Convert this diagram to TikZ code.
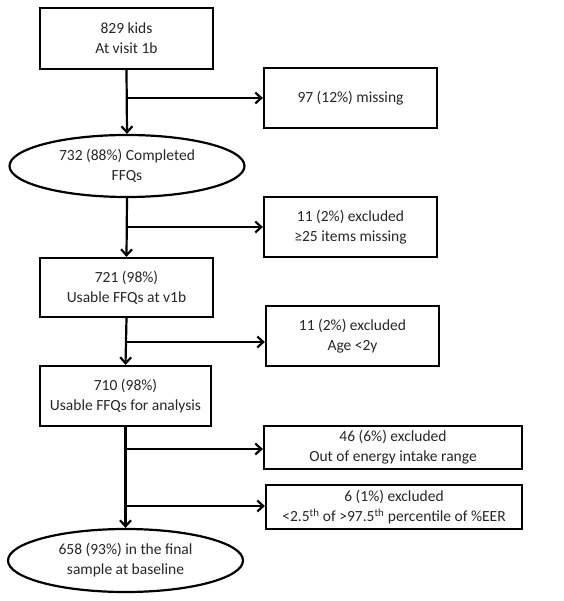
\documentclass[tikz,border=0pt]{standalone}
\usepackage{fontspec}
\setmainfont{Carlito}
\usetikzlibrary{shapes.geometric,arrows.meta}
\begin{document}
\begin{tikzpicture}[x=1pt,y=-1pt,
  every node/.style={font=\fontsize{15.5}{20}\selectfont, align=center, inner sep=0pt, text=black!85},
  box/.style={draw, line width=2.2pt, rectangle},
  ell/.style={draw, line width=2.2pt, ellipse},
  conn/.style={line width=2.2pt, -{Straight Barb[length=6pt,width=11pt,line width=2.2pt]}}]
\useasboundingbox (0,0) rectangle (563,601);
\node[box, minimum width=173, minimum height=61] (b1) at (126.5,38.5) {829 kids\\At visit 1b};
\node[box, minimum width=173, minimum height=60] (m1) at (350.5,98) {97 (12\%) missing};
\node[ell, minimum width=235, minimum height=62] (e1) at (127,166) {732 (88\%) Completed\\FFQs};
\node[box, minimum width=173, minimum height=60] (x1) at (350.5,227) {11 (2\%) excluded\\≥25 items missing};
\node[box, minimum width=173, minimum height=59] (b2) at (126.5,287.5) {721 (98\%)\\Usable FFQs at v1b};
\node[box, minimum width=173, minimum height=60] (x2) at (352.5,336) {11 (2\%) excluded\\Age <2y};
\node[box, minimum width=171, minimum height=60] (b3) at (125.5,396) {710 (98\%)\\Usable FFQs for analysis};
\node[box, minimum width=258, minimum height=43] (x3) at (393,447.5) {46 (6\%) excluded\\Out of energy intake range};
\node[box, minimum width=256, minimum height=44] (x4) at (394,507) {6 (1\%) excluded\\<2.5\textsuperscript{th} of >97.5\textsuperscript{th} percentile of \%EER};
\node[ell, minimum width=235, minimum height=63] (e2) at (125.5,560.5) {658 (93\%) in the final\\sample at baseline};
\coordinate (c1) at (127,98);
\coordinate (c2) at (127,227);
\coordinate (c3) at (125,342);
\coordinate (c4) at (125,449);
\coordinate (c5) at (125,506);
\draw[conn] (b1.south) -- (e1.north);
\draw[conn] (c1) -- (m1.west);
\draw[conn] (e1.south) -- (b2.north);
\draw[conn] (c2) -- (x1.west);
\draw[conn] (b2.south) -- (b3.north);
\draw[conn] (c3) -- (x2.west|-c3);
\draw[conn] (b3.south) -- (e2.north);
\draw[conn] (c4) -- (x3.west|-c4);
\draw[conn] (c5) -- (x4.west|-c5);
\end{tikzpicture}
\end{document}
